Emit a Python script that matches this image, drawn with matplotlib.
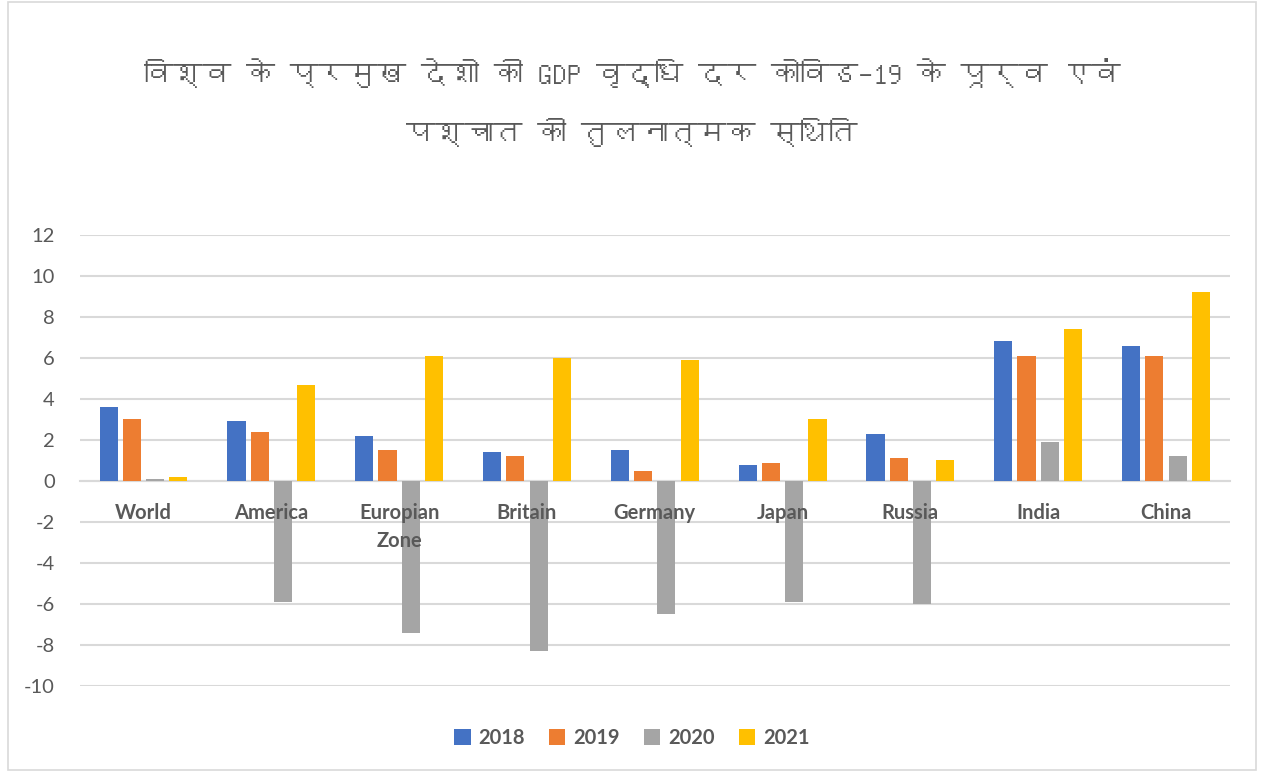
import matplotlib
matplotlib.use("Agg")
import matplotlib.pyplot as plt
from matplotlib import font_manager
from matplotlib.ft2font import FT2Font
from matplotlib.patches import Patch, Rectangle

# Data
countries = ["World", "America", "Europian\nZone", "Britain", "Germany",
             "Japan", "Russia", "India", "China"]
years = ["2018", "2019", "2020", "2021"]
gdp_2018 = [3.6, 2.9, 2.2, 1.4, 1.5, 0.8, 2.3, 6.8, 6.6]
gdp_2019 = [3.0, 2.4, 1.5, 1.2, 0.5, 0.9, 1.1, 6.1, 6.1]
gdp_2020 = [0.1, -5.9, -7.4, -8.3, -6.5, -5.9, -6.0, 1.9, 1.2]
gdp_2021 = [0.2, 4.7, 6.1, 6.0, 5.9, 3.0, 1.0, 7.4, 9.2]
colors = ["#4472C4", "#ED7D31", "#A5A5A5", "#FFC000"]

title_line1 = "विश्व के प्रमुख देशो की GDP वृद्धि दर कोविड–19 के पूर्व एवं"
title_line2 = "पश्चात की तुलनात्मक स्थिति"

# find a font that has Devanagari glyphs
deva_font = None
for f in font_manager.fontManager.ttflist:
    try:
        if 0x0915 in FT2Font(f.fname).get_charmap():
            deva_font = f.name
            break
    except Exception:
        pass
title_family = [deva_font, "DejaVu Sans"] if deva_font else ["DejaVu Sans"]

plt.rcParams["font.family"] = ["Lato", "DejaVu Sans"]
plt.rcParams["axes.unicode_minus"] = False
grey_txt = "#595959"
grid_col = "#D9D9D9"

fig = plt.figure(figsize=(12.64, 7.72), dpi=100)
ax = fig.add_axes([0.063, 0.111, 0.910, 0.585])

series = [gdp_2018, gdp_2019, gdp_2020, gdp_2021]
pitch = 0.182
width = 0.142
x = list(range(len(countries)))
for i, (vals, col, yr) in enumerate(zip(series, colors, years)):
    off = (i - 1.5) * pitch
    ax.bar([p + off for p in x], vals, width=width, color=col, label=yr, zorder=2)

ax.set_xlim(-0.5, len(countries) - 0.5)
ax.set_ylim(-10, 12)
ax.set_yticks(range(-10, 13, 2))
ax.set_axisbelow(True)
ax.yaxis.grid(True, color=grid_col, linewidth=1.5)
ax.tick_params(axis="y", length=0, labelsize=14.5, labelcolor=grey_txt, pad=18)

for s in ["top", "right", "left"]:
    ax.spines[s].set_visible(False)
ax.spines["bottom"].set_position(("data", 0))
ax.spines["bottom"].set_color(grid_col)
ax.spines["bottom"].set_linewidth(1.5)
ax.spines["bottom"].set_zorder(1)
ax.set_xticks(x)
ax.set_xticklabels(countries, fontsize=14.5, fontweight="bold", color=grey_txt,
                   linespacing=1.5)
ax.tick_params(axis="x", length=0, pad=16)
# category names sit on top of the bars, as in the original
ax.xaxis.set_zorder(4)

fig.text(0.5, 0.905, title_line1, ha="center", va="center", fontsize=21,
         color=grey_txt, family=title_family)
fig.text(0.5, 0.828, title_line2, ha="center", va="center", fontsize=21,
         color=grey_txt, family=title_family)

handles = [Patch(facecolor=c, label=y) for c, y in zip(colors, years)]
fig.legend(handles=handles, loc="center", bbox_to_anchor=(0.5, 0.044), ncol=4,
           frameon=False, handlelength=0.8, handleheight=0.8, handletextpad=0.4,
           columnspacing=1.2, prop={"size": 14.5, "weight": "bold"},
           labelcolor=grey_txt)

fig.patches.append(Rectangle((0.006, 0.003), 0.988, 0.994, transform=fig.transFigure,
                             fill=False, edgecolor=grid_col, linewidth=1.2))

fig.savefig("out.png", dpi=100)
